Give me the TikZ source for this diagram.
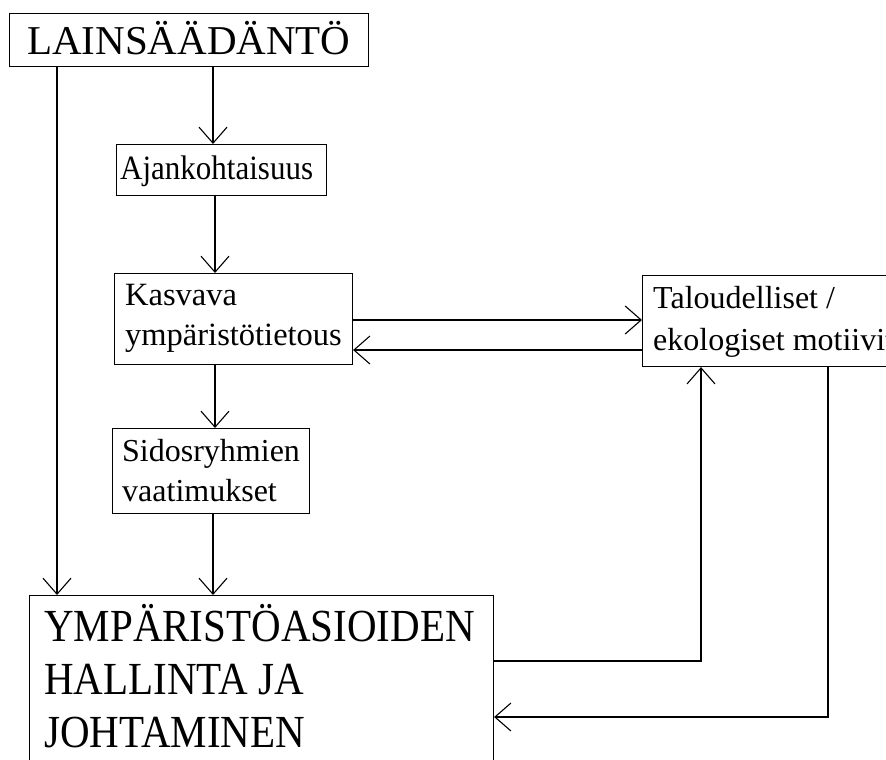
\documentclass[tikz,border=0pt]{standalone}
\usepackage{fontspec}
\setmainfont{Liberation Serif}
\usetikzlibrary{arrows.meta}

\newcommand\fsz[2]{\fontsize{#1}{#2}\selectfont}

\tikzset{
  box/.style={draw, line width=1.1pt, inner sep=0pt, anchor=north west},
  lbl/.style={inner sep=0pt, anchor=base west, align=left},
  plainlbl/.style={inner sep=0pt, anchor=base west},
  arr/.style={line width=1.1pt, -{Straight Barb[length=16pt,width=28pt,line width=1.1pt]}},
}

\begin{document}
\begin{tikzpicture}[x=1pt,y=-1pt]
\useasboundingbox (0,0) rectangle (886,760);
\clip (0,0) rectangle (886,760);
\fill[white] (0,0) rectangle (886,760);

% boxes
\node[box, minimum width=359pt, minimum height=53pt] (lain)  at (9,13)   {};
\node[box, minimum width=210pt, minimum height=51pt] (ajan)  at (116,144) {};
\node[box, minimum width=238pt, minimum height=91pt] (kasv)  at (114,273) {};
\node[box, minimum width=197pt, minimum height=85pt] (sidos) at (112,428) {};
\node[box, minimum width=280pt, minimum height=91pt] (talo)  at (642,275) {};
\node[box, minimum width=464pt, minimum height=200pt] (big) at (29,595)  {};

% labels (multi-line labels are placed by the baseline of their last line)
\node[plainlbl, font=\fsz{41}{49}] (lainT) at (27,55) {LAINSÄÄDÄNTÖ};
\node[plainlbl, font=\fsz{31}{40}] (ajanT) at (120,179.5) {\scalebox{1}[1.1]{Ajankohtaisuus}};
\node[lbl, font=\fsz{32.5}{40}]   (kasvT)  at (125,345) {Kasvava\\ympäristötietous};
\node[lbl, font=\fsz{32}{39.5}]   (sidosT) at (122,501) {Sidosryhmien\\vaatimukset};
\node[lbl, font=\fsz{32}{42}]     (taloT)  at (653,350) {Taloudelliset /\\ekologiset motiivit};
\node[plainlbl, font=\fsz{41}{46.9}] (bigT) at (44,747)
  {\scalebox{1}[1.12]{\begin{tabular}[b]{@{}l@{}}YMPÄRISTÖASIOIDEN\\HALLINTA JA\\JOHTAMINEN\end{tabular}}};

% connectors
\draw[arr] (lain.south -| 213,0) -- (ajan.north -| 213,0);
\draw[arr] (ajan.south -| 215,0) -- (kasv.north -| 215,0);
\draw[arr] (kasv.south -| 215,0) -- (sidos.north -| 215,0);
\draw[arr] (sidos.south -| 213,0) -- (big.north -| 213,0);
\draw[arr] (lain.south -| 57,0) -- (big.north -| 57,0);
\draw[arr] (kasv.east |- 0,320) -- (talo.west |- 0,320);
\draw[arr] (talo.west |- 0,350) -- (kasv.east |- 0,350);
\draw[arr] (big.east |- 0,661) -| (talo.south -| 701,0);
\draw[arr] (talo.south -| 828,0) |- (big.east |- 0,717);
\end{tikzpicture}
\end{document}
